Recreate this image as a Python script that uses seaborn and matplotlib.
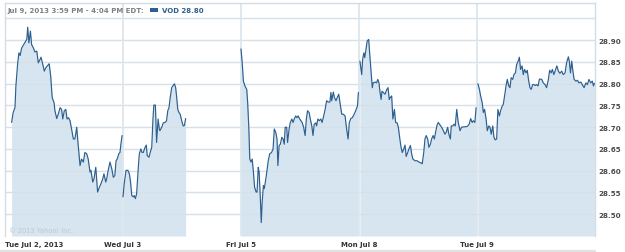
import matplotlib
matplotlib.use("Agg")
import matplotlib.pyplot as plt
import seaborn as sns
import pandas as pd
from matplotlib.patches import Rectangle
from matplotlib.lines import Line2D

# ---------------- data (minutes after 9:30 open, price) ----------------
day_labels = ["Tue Jul 2, 2013", "Wed Jul 3", "Fri Jul 5", "Mon Jul 8", "Tue Jul 9"]
session_minutes = 390

jul2_min = [22,27,33,36,42,46,50,55,60,66,72,75,79,84,88,94,99,105,110,116,
            119,125,130,135,140,146,151,156,162,165,171,176,182,187,191,196,201,205,210,215,
            220,226,231,237,242,248,253,259,264,270,275,281,284,290,294,300,303,306,312,317,
            323,327,333,336,341,347,353,358,363,367,371,376,380,383,387]
jul2_px = [28.711,28.734,28.745,28.795,28.848,28.871,28.865,28.882,28.888,28.895,
           28.902,28.930,28.894,28.921,28.890,28.882,28.873,28.875,28.848,28.856,
           28.861,28.844,28.829,28.837,28.841,28.846,28.818,28.768,28.757,28.738,
           28.720,28.730,28.745,28.741,28.719,28.738,28.741,28.719,28.722,28.715,
           28.696,28.673,28.673,28.700,28.658,28.612,28.627,28.620,28.642,28.639,
           28.627,28.597,28.601,28.574,28.581,28.608,28.581,28.551,28.562,28.570,
           28.581,28.593,28.574,28.581,28.601,28.620,28.604,28.585,28.589,28.623,
           28.627,28.639,28.642,28.661,28.681]

jul3_min = [0,4,10,16,21,25,29,34,37,41,45,51,54,59,63,67,73,77,80,86,
            90,95,99,102,107,111,116,120,122,128,133,139,144,148,152,156,161,166,170,174,
            177,181,185,189,194,199,203,207]
jul3_px = [28.540,28.570,28.601,28.601,28.593,28.574,28.543,28.540,28.543,28.536,
           28.547,28.612,28.639,28.650,28.642,28.642,28.654,28.659,28.635,28.631,
           28.642,28.654,28.719,28.751,28.751,28.665,28.719,28.696,28.692,28.700,
           28.710,28.711,28.715,28.738,28.745,28.768,28.791,28.796,28.800,28.791,
           28.772,28.741,28.734,28.730,28.715,28.703,28.704,28.720]

jul5_min = [0,4,8,13,19,22,26,29,33,37,41,45,50,53,57,60,64,67,70,74,
            77,82,86,90,95,101,106,110,115,119,122,126,130,135,139,143,146,151,154,159,
            163,168,172,176,181,185,189,194,198,202,207,212,216,220,225,229,234,238,242,247,
            250,254,259,264,268,272,278,283,288,294,297,300,305,309,314,318,323,327,333,338,
            344,349,354,358,363,368,374,379,385,388]
jul5_px = [28.880,28.848,28.806,28.795,28.787,28.757,28.696,28.627,28.620,28.627,
           28.597,28.562,28.551,28.551,28.608,28.597,28.536,28.481,28.528,28.566,
           28.559,28.581,28.601,28.623,28.639,28.642,28.650,28.696,28.688,28.673,
           28.612,28.658,28.661,28.677,28.673,28.661,28.700,28.700,28.665,28.696,
           28.711,28.719,28.711,28.719,28.726,28.722,28.726,28.719,28.715,28.711,
           28.700,28.681,28.719,28.738,28.734,28.719,28.703,28.681,28.707,28.710,
           28.703,28.719,28.715,28.719,28.711,28.722,28.741,28.761,28.758,28.758,
           28.780,28.761,28.781,28.768,28.761,28.768,28.776,28.757,28.730,28.730,
           28.726,28.696,28.673,28.711,28.720,28.722,28.730,28.738,28.749,28.780]

jul8_min = [3,9,12,16,19,23,27,32,36,41,44,47,53,58,62,66,69,73,76,80,
            86,92,96,100,103,108,112,117,121,126,130,135,139,143,148,152,156,161,165,170,
            174,178,185,192,198,205,209,214,218,222,227,231,236,240,245,249,253,258,262,268,
            273,279,284,288,293,297,302,305,310,314,318,323,328,334,339,346,350,358,364,369,
            374,378,383,387]
jul8_px = [28.852,28.821,28.856,28.871,28.860,28.879,28.898,28.902,28.863,28.818,
           28.791,28.802,28.804,28.802,28.810,28.802,28.783,28.764,28.783,28.780,
           28.776,28.787,28.791,28.764,28.768,28.772,28.719,28.741,28.711,28.710,
           28.700,28.673,28.654,28.642,28.650,28.659,28.633,28.642,28.650,28.658,
           28.639,28.627,28.623,28.623,28.620,28.618,28.616,28.642,28.673,28.681,
           28.673,28.654,28.661,28.673,28.681,28.673,28.688,28.705,28.711,28.705,
           28.700,28.692,28.684,28.688,28.700,28.684,28.673,28.703,28.703,28.707,
           28.703,28.741,28.711,28.692,28.700,28.701,28.701,28.702,28.707,28.720,
           28.711,28.715,28.711,28.745]

jul9_min = [3,8,12,17,21,25,30,34,39,43,47,52,56,60,65,69,74,78,83,87,
            92,96,100,105,109,113,118,122,127,131,136,140,144,149,153,157,162,166,171,175,
            179,184,188,193,197,202,206,208,214,219,225,230,236,240,245,249,254,258,264,269,
            274,280,285,291,296,302,305,309,313,317,321,327,332,337,343,348,354,360,365,370,
            376,381,385,388]
jul9_px = [28.800,28.787,28.772,28.757,28.734,28.741,28.719,28.692,28.703,28.700,
           28.684,28.703,28.677,28.671,28.673,28.741,28.726,28.738,28.748,28.753,
           28.776,28.795,28.810,28.795,28.791,28.814,28.810,28.821,28.825,28.844,
           28.852,28.861,28.833,28.841,28.821,28.833,28.825,28.831,28.806,28.791,
           28.787,28.798,28.798,28.796,28.798,28.795,28.810,28.811,28.810,28.802,
           28.798,28.791,28.810,28.831,28.825,28.833,28.821,28.829,28.841,28.829,
           28.824,28.829,28.821,28.825,28.848,28.862,28.852,28.825,28.852,28.829,
           28.810,28.806,28.808,28.802,28.804,28.798,28.791,28.802,28.798,28.810,
           28.802,28.806,28.795,28.801]

y_ticks = [28.50, 28.55, 28.60, 28.65, 28.70, 28.75, 28.80, 28.85, 28.90]
y_grid = y_ticks + [28.95]
header_left = "Jul 9, 2013 3:59 PM - 4:04 PM EDT:"
header_right = "VOD 28.80"
copyright_txt = "\u00a9 2013 Yahoo! Inc."

# ---------------- build table ----------------
days = [(jul2_min, jul2_px), (jul3_min, jul3_px), (jul5_min, jul5_px),
        (jul8_min, jul8_px), (jul9_min, jul9_px)]
frames = []
for i, (m, p) in enumerate(days):
    frames.append(pd.DataFrame({"pos": [i + v / session_minutes for v in m],
                                "price": p, "day": i}))
df = pd.concat(frames, ignore_index=True)

# ---------------- styling ----------------
sns.set_style("white")
plt.rcParams["font.family"] = ["DejaVu Sans"]

LINE = "#2d5f90"
FILL = "#d6e5f0"
GRID = "#d6e0e8"
FRAME = "#d3dce4"

W, H = 625, 253
fig = plt.figure(figsize=(W / 100, H / 100), dpi=100)
ax = fig.add_axes([5 / W, 1 - 237 / H, 590 / W, 233 / H])

ymin = 28.45
ymax = 28.45 + 233 / 21.75 * 0.05
ax.set_xlim(0, 5)
ax.set_ylim(ymin, ymax)

for d, g in df.groupby("day"):
    ax.fill_between(g["pos"], g["price"], ymin, color=FILL, lw=0, zorder=1)

for y in y_grid:
    ax.axhline(y, color=GRID, lw=1.0, zorder=2)
for x in range(1, 5):
    ax.axvline(x, color="#dce6ee", lw=1.3, zorder=2)

sns.lineplot(data=df, x="pos", y="price", units="day", estimator=None,
             color=LINE, lw=0.85, ax=ax, zorder=3, legend=False)

ax.set_xlabel("")
ax.set_ylabel("")
ax.yaxis.tick_right()
ax.set_yticks(y_ticks)
ax.set_yticklabels([f"{v:.2f}" for v in y_ticks])
ax.tick_params(axis="y", length=0, pad=2.5, labelsize=5.1, labelcolor="#4a4a4a")
ax.set_xticks(range(5))
ax.set_xticklabels(day_labels)
ax.tick_params(axis="x", length=0, pad=3.5, labelsize=5.0, labelcolor="#333333")
for lbl in ax.get_yticklabels() + ax.get_xticklabels():
    lbl.set_fontweight("bold")
ax.get_xticklabels()[0].set_ha("left")

for s in ["left", "right", "top"]:
    ax.spines[s].set_color(FRAME)
    ax.spines[s].set_linewidth(1.0)
ax.spines["bottom"].set_visible(False)

# header
t1 = fig.text(7 / W, 1 - 11 / H, header_left, fontsize=5.0, fontweight="bold",
              color="#808080", va="center", ha="left")
fig.canvas.draw()
bb = t1.get_window_extent(fig.canvas.get_renderer())
rx = bb.x1 + 6
fig.add_artist(Rectangle((rx / W, 1 - 12.5 / H), 8.5 / W, 3.2 / H,
                         transform=fig.transFigure, color=LINE, lw=0))
fig.text((rx + 12) / W, 1 - 11 / H, header_right, fontsize=5.0, fontweight="bold",
         color=LINE, va="center", ha="left")

# copyright
fig.text(9 / W, 1 - 231 / H, copyright_txt, fontsize=4.8, color="#b9c9d5",
         va="center", ha="left")

# bottom rule
fig.add_artist(Line2D([0, 595 / W], [1 - 251.5 / H, 1 - 251.5 / H],
                      transform=fig.transFigure, color="#e2e2e2", lw=1.6))

fig.savefig("out.png", dpi=100)
